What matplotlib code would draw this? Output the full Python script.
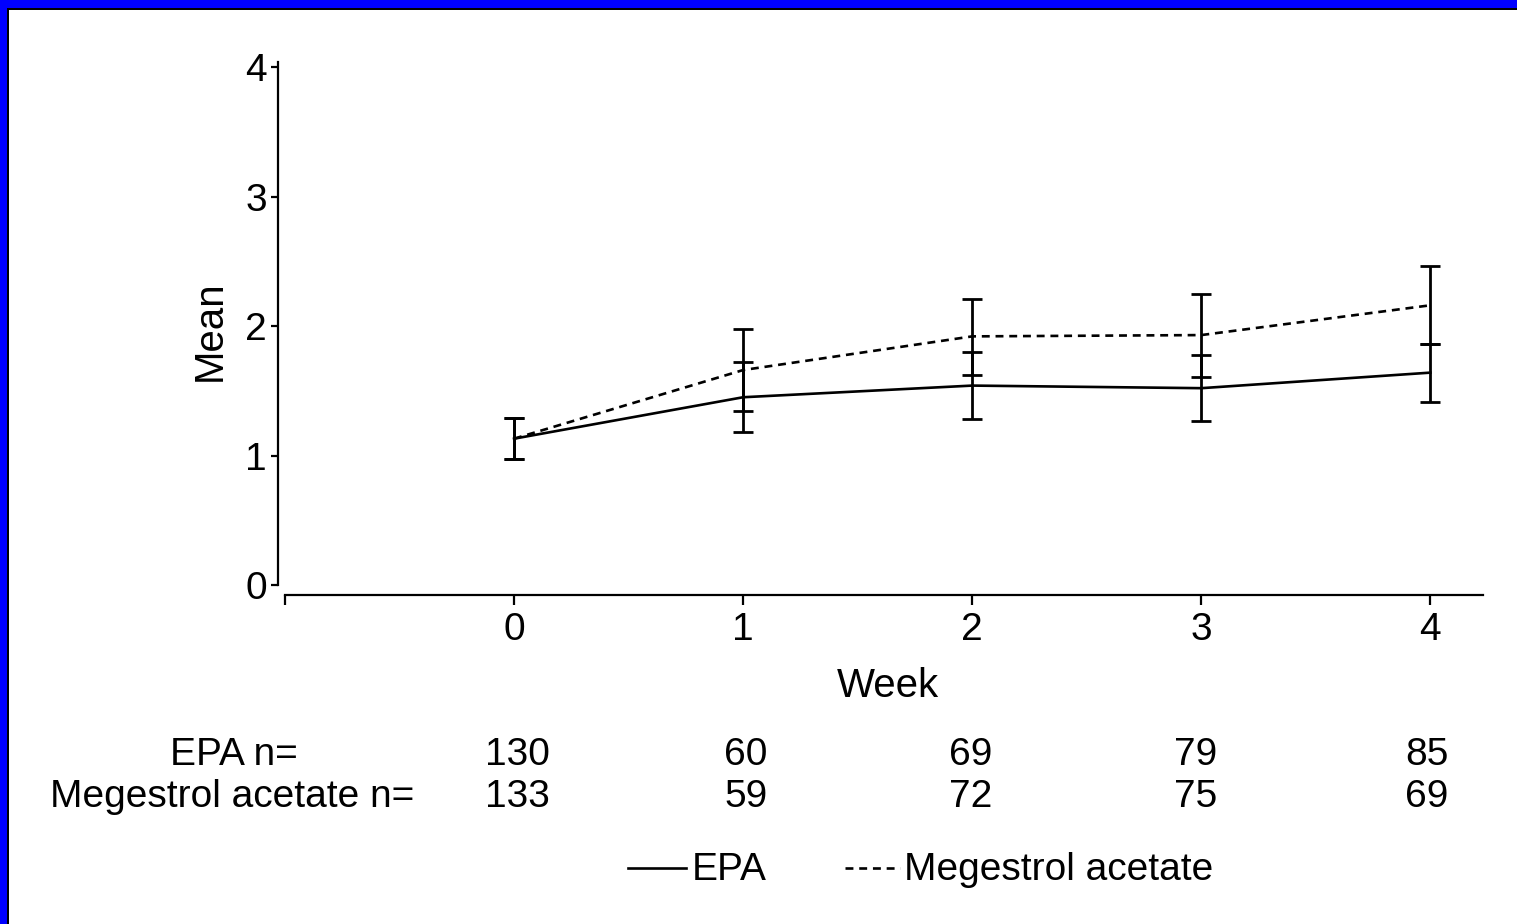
import matplotlib.pyplot as plt
from matplotlib.patches import Rectangle

plt.rcParams["font.family"] = ["Liberation Sans", "DejaVu Sans"]

# dati
weeks = [0, 1, 2, 3, 4]
epa_mean = [1.13, 1.45, 1.54, 1.52, 1.64]
epa_low = [0.97, 1.18, 1.28, 1.27, 1.41]
epa_high = [1.29, 1.72, 1.80, 1.78, 1.86]
mega_mean = [1.13, 1.66, 1.92, 1.93, 2.16]
mega_low = [0.97, 1.34, 1.62, 1.61, 1.86]
mega_high = [1.29, 1.98, 2.21, 2.25, 2.46]
epa_n = [130, 60, 69, 79, 85]
mega_n = [133, 59, 72, 75, 69]

W, H = 1517, 924
fig = plt.figure(figsize=(W / 100, H / 100), dpi=100)


def fx(px):
    return px / W


def fy(py):
    return 1 - py / H


ax = fig.add_axes([fx(285), fy(595), fx(1483) - fx(285), fy(67) - fy(595)])
ax.set_xlim(-1, 4.23)
ax.set_ylim(-0.077, 4.0)

dash = (0, (3, 2.2))
ax.plot(weeks, epa_mean, color="black", lw=1.9, linestyle="-")
ax.plot(weeks, mega_mean, color="black", lw=1.9, linestyle=dash)

for lo, hi, mn in [(epa_low, epa_high, epa_mean), (mega_low, mega_high, mega_mean)]:
    err = [[m - l for m, l in zip(mn, lo)], [h - m for m, h in zip(mn, hi)]]
    ax.errorbar(weeks, mn, yerr=err, fmt="none", ecolor="black",
                elinewidth=2, capsize=7, capthick=2)

for s in ["top", "right"]:
    ax.spines[s].set_visible(False)
ax.spines["left"].set_position(("outward", 5))
ax.spines["left"].set_bounds(0, 4.04)
ax.spines["left"].set_linewidth(1.6)
ax.spines["bottom"].set_linewidth(1.6)

ax.set_xticks([-1, 0, 1, 2, 3, 4])
ax.set_xticklabels(["", "0", "1", "2", "3", "4"])
ax.set_yticks([0, 1, 2, 3, 4])
ax.tick_params(axis="both", labelsize=28, width=1.6, length=7, pad=5)
ax.tick_params(axis="y", length=5, pad=3)

ax.set_ylabel("Mean", fontsize=29, labelpad=12)
fig.text(fx(888), fy(686), "Week", fontsize=29, ha="center", va="center")

# tabella dei numeri a rischio
fig.text(fx(234), fy(755), "EPA n=", fontsize=28, ha="center", va="center")
fig.text(fx(232), fy(797), "Megestrol acetate n=", fontsize=28, ha="center", va="center")
n_x = [517, 746, 971, 1196, 1427]
for xp, a, b in zip(n_x, epa_n, mega_n):
    fig.text(fx(xp), fy(755), str(a), fontsize=28, ha="center", va="center")
    fig.text(fx(xp), fy(797), str(b), fontsize=28, ha="center", va="center")

# legenda
fig.add_artist(plt.Line2D([fx(628), fx(686)], [fy(868), fy(868)], color="black", lw=1.9))
fig.text(fx(692), fy(870), "EPA", fontsize=28, ha="left", va="center")
fig.add_artist(plt.Line2D([fx(845), fx(900)], [fy(868), fy(868)], color="black", lw=1.9,
                          linestyle=dash))
fig.text(fx(904), fy(870), "Megestrol acetate", fontsize=28, ha="left", va="center")

# cornice blu
fig.add_artist(Rectangle((0, 0), fx(7), 1, transform=fig.transFigure, color="#0000ff", lw=0))
fig.add_artist(Rectangle((fx(7), 0), fx(2), fy(8), transform=fig.transFigure, color="black", lw=0))
fig.add_artist(Rectangle((0, fy(8)), 1, 1 - fy(8), transform=fig.transFigure, color="#0000ff", lw=0))
fig.add_artist(Rectangle((fx(7), fy(10)), 1, fy(8) - fy(10), transform=fig.transFigure, color="black", lw=0))

fig.savefig("out.png", dpi=100)
